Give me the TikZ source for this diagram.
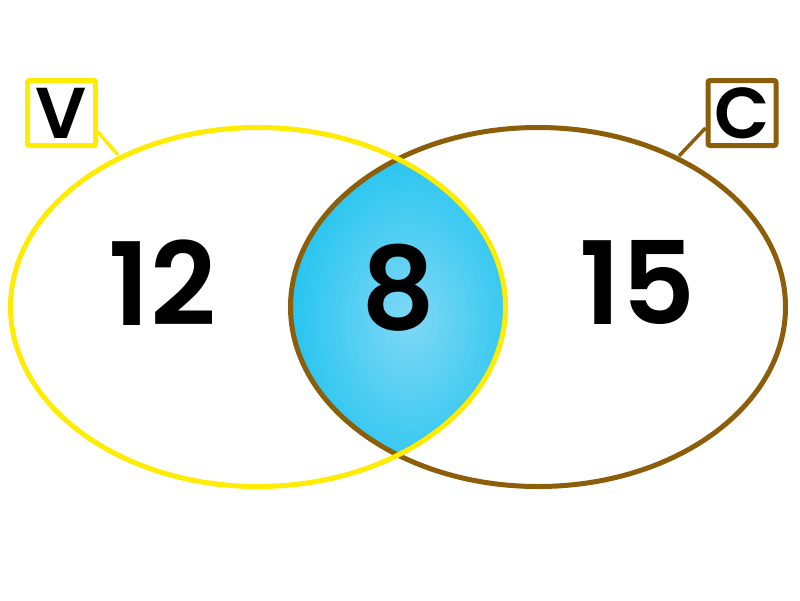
\documentclass[tikz,border=0pt]{standalone}
\usepackage{fontspec}
\setmainfont{Poppins}
\newfontfamily\semib{Poppins SemiBold}
\definecolor{vyellow}{RGB}{255,236,0}
\definecolor{cbrown}{RGB}{140,94,10}
\definecolor{lensedge}{RGB}{30,195,240}
\definecolor{lensmid}{RGB}{128,216,245}
\begin{document}
\begin{tikzpicture}[x=1pt,y=-1pt,
  setline/.style={line width=5pt},
  numtext/.style={font=\fontsize{115}{115}\selectfont\semib, inner sep=0pt},
  labelbox/.style={setline, rounded corners=2pt, minimum width=68pt, minimum height=65pt, inner sep=0pt, fill=white, font=\fontsize{72}{72}\selectfont\semib},
  tie/.style={line width=3.5pt}]
\useasboundingbox[fill=white] (0,0) rectangle (800,600);
% lens fill
\begin{scope}
  \clip (258,307) ellipse [x radius=247.5, y radius=179.5];
  \clip (538,307) ellipse [x radius=247.5, y radius=179.5];
  \shade[inner color=lensmid, outer color=lensedge] (410,320) ellipse [x radius=130, y radius=185];
\end{scope}
% set outlines
\draw[setline, cbrown] (538,307) ellipse [x radius=247.5, y radius=179.5];
\draw[setline, vyellow] (258,307) ellipse [x radius=247.5, y radius=179.5];
% labels
\node[labelbox, draw=vyellow] (V) at (61.5,113) {V};
\node[labelbox, draw=cbrown] (C) at (742,113) {C};
\coordinate (vend) at (118,155);
\coordinate (cend) at (679,156);
\draw[tie, vyellow] (V.east |- 0,132) -- (vend);
\draw[tie, cbrown] (C.west |- 0,128) -- (cend);
% numbers
\node[numtext] (n12) at (162.5,282.5) {12};
\node[numtext] (n8) at (398,288) {8};
\node[numtext] (n15) at (637.5,282) {15};
\end{tikzpicture}
\end{document}
